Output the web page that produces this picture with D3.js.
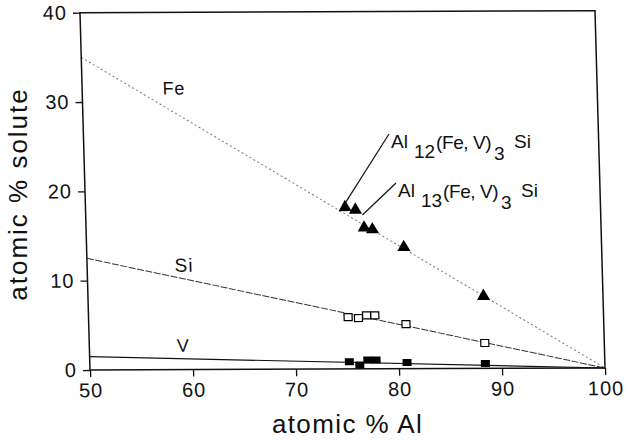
<html>
  <head>
    <style>
      body { margin: 0; background: #fff; }
      text { font-family: "Liberation Sans", Arial, sans-serif; fill: #111; }
      .tick text { font-size: 20px; letter-spacing: 1px; }
      .tick line { stroke: #111; stroke-width: 1.3; }
    </style>
  </head>
  <body>
    <div id="main"><svg></svg></div>
    <script src="https://d3js.org/d3.v7.min.js"></script>
    <script>
      // compositions (atomic % Al) and solute contents
      var alContent = [75.2, 76.2, 77.0, 77.8, 80.8, 88.4];
      var feValues = [18.1, 17.8, 15.8, 15.6, 13.6, 8.1];
      var siValues = [5.8, 5.7, 6.0, 6.0, 5.0, 2.85];
      var vValues = [0.8, 0.45, 1.0, 1.0, 0.7, 0.55];

      // tie lines to pure Al
      var feLine = [[50, 35], [100, 0]];
      var siLine = [[50, 12.5], [100, 0]];
      var vLine = [[50, 1.5], [100, 0]];

      var xTicks = [50, 60, 70, 80, 90, 100];
      var yTicks = [0, 10, 20, 30, 40];

      var width = 628, height = 440;
      var plotW = 515, plotH = 357.3;
      // the scanned figure is slightly sheared
      var m = {a: 1, b: -0.0039, c: 0.028, d: 1, e: 80, f: 12.7};

      var x = d3.scaleLinear().domain([50, 100]).range([0, plotW]);
      var y = d3.scaleLinear().domain([0, 40]).range([plotH, 0]);

      function toPage(xv, yv) {
          var u = x(xv), v = y(yv);
          return [m.a * u + m.c * v + m.e, m.b * u + m.d * v + m.f];
      }

      var svg = d3.select('#main svg').attr('width', width).attr('height', height);
      svg.append('rect').attr('width', width).attr('height', height).attr('fill', '#fff');

      var g = svg.append('g')
          .attr('transform', 'matrix(' + [m.a, m.b, m.c, m.d, m.e, m.f].join(',') + ')');

      var line = d3.line().x(function(d) { return x(d[0]); }).y(function(d) { return y(d[1]); });

      g.append('path').datum(feLine).attr('d', line)
          .attr('fill', 'none').attr('stroke', '#777').attr('stroke-width', 1)
          .attr('stroke-dasharray', '2,2.5');
      g.append('path').datum(siLine).attr('d', line)
          .attr('fill', 'none').attr('stroke', '#333').attr('stroke-width', 1)
          .attr('stroke-dasharray', '7,1.5');
      g.append('path').datum(vLine).attr('d', line)
          .attr('fill', 'none').attr('stroke', '#111').attr('stroke-width', 1.2);

      // frame
      g.append('rect').attr('width', plotW).attr('height', plotH)
          .attr('fill', 'none').attr('stroke', '#111').attr('stroke-width', 1.5);

      g.append('g').attr('transform', 'translate(0,' + plotH + ')')
          .call(d3.axisBottom(x).tickValues(xTicks).tickSize(7).tickPadding(6))
          .call(function(a) { a.select('.domain').remove(); a.selectAll('text').attr('font-size', null).attr('font-family', null); });
      g.append('g')
          .call(d3.axisLeft(y).tickValues(yTicks).tickSize(7).tickPadding(6))
          .call(function(a) { a.select('.domain').remove(); a.selectAll('text').attr('font-size', null).attr('font-family', null); });

      // V: filled squares
      g.selectAll('rect.v').data(alContent).enter().append('rect').attr('class', 'v')
          .attr('x', function(d) { return x(d) - 4.5; })
          .attr('y', function(d, i) { return y(vValues[i]) - 3.5; })
          .attr('width', 9).attr('height', 7).attr('fill', '#000');

      // Si: open squares
      g.selectAll('rect.si').data(alContent).enter().append('rect').attr('class', 'si')
          .attr('x', function(d) { return x(d) - 4; })
          .attr('y', function(d, i) { return y(siValues[i]) - 3.5; })
          .attr('width', 8).attr('height', 7)
          .attr('fill', '#fff').attr('stroke', '#000').attr('stroke-width', 1.2);

      // Fe: filled triangles
      var tri = d3.symbol().type(d3.symbolTriangle).size(75);
      g.selectAll('path.fe').data(alContent).enter().append('path').attr('class', 'fe')
          .attr('d', tri)
          .attr('transform', function(d, i) { return 'translate(' + x(d) + ',' + y(feValues[i]) + ')'; })
          .attr('fill', '#000');

      // line labels
      function lineLabel(txt, xv, yv, size) {
          g.append('text').attr('x', x(xv)).attr('y', y(yv))
              .attr('font-size', size).attr('letter-spacing', 1).text(txt);
      }
      lineLabel('Fe', 57.8, 30.8, 18);
      lineLabel('Si', 58.5, 10.96, 19);
      lineLabel('V', 58.5, 2.0, 18);

      // phase annotations
      function annotation(px, py, sub, target, off) {
          var t = toPage(alContent[target], feValues[target]);
          svg.append('line')
              .attr('x1', px - 2).attr('y1', py - 14)
              .attr('x2', t[0] + off[0]).attr('y2', t[1] + off[1])
              .attr('stroke', '#111').attr('stroke-width', 1.2);
          var txt = svg.append('text').attr('font-size', 19);
          txt.append('tspan').attr('x', px).attr('y', py).text('Al');
          txt.append('tspan').attr('x', px + 23).attr('y', py + 10).text(sub);
          txt.append('tspan').attr('x', px + 45).attr('y', py + 1).attr('letter-spacing', -0.4).text('(Fe, V)');
          txt.append('tspan').attr('x', px + 103).attr('y', py + 12).text('3');
          txt.append('tspan').attr('x', px + 123).attr('y', py).text('Si');
      }
      annotation(391, 148, '12', 0, [0, -4]);
      annotation(398, 197, '13', 1, [7, 5]);

      // axis titles
      svg.append('text').attr('x', 347.5).attr('y', 433)
          .attr('text-anchor', 'middle').attr('font-size', 26).attr('letter-spacing', 1.4)
          .text('atomic % Al');
      svg.append('text').attr('transform', 'translate(27,194) rotate(-90)')
          .attr('text-anchor', 'middle').attr('font-size', 26).attr('letter-spacing', 2)
          .text('atomic % solute');
    </script>
  </body>
</html>
